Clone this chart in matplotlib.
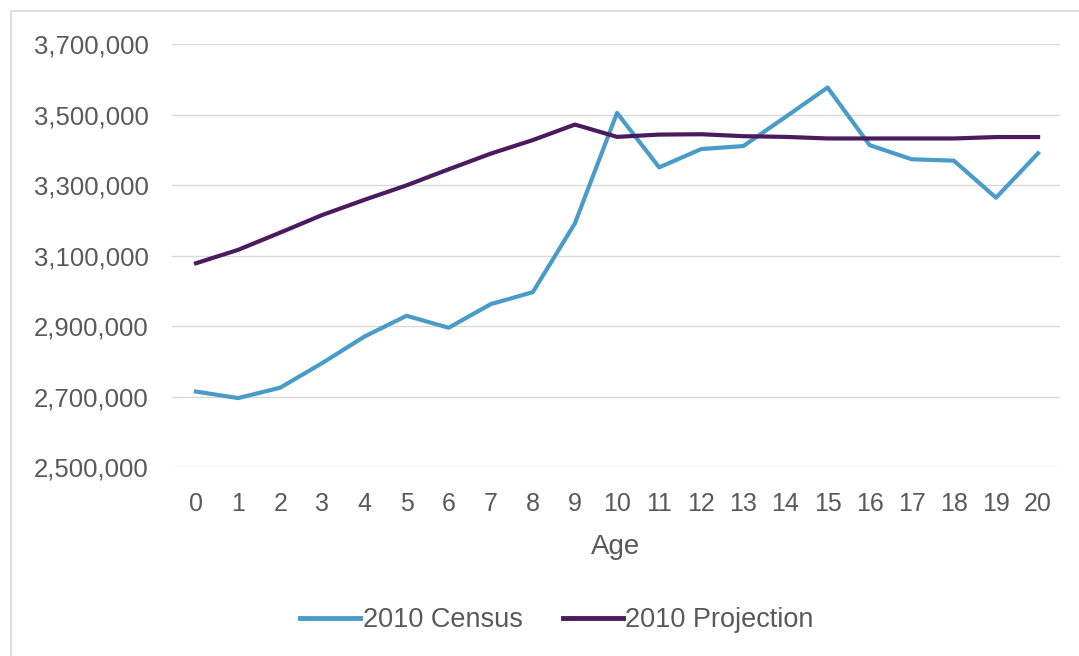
import matplotlib
matplotlib.use("Agg")
import matplotlib.pyplot as plt
from matplotlib.patches import Rectangle
from matplotlib.ticker import FuncFormatter

ages = list(range(0, 21))
census = [2714000, 2695500, 2725000, 2795000, 2870000, 2929000, 2895000, 2962000,
          2996000, 3191500, 3504500, 3350000, 3402000, 3410500, 3493000, 3576500,
          3413000, 3373000, 3369000, 3264000, 3390000]
projection = [3078000, 3116000, 3165000, 3215000, 3258000, 3299000, 3344500, 3389000,
              3427500, 3471500, 3436500, 3443000, 3444000, 3438500, 3436500, 3432000,
              3432000, 3432000, 3432000, 3436000, 3436000]
yticks = [2500000, 2700000, 2900000, 3100000, 3300000, 3500000, 3700000]

plt.rcParams['font.family'] = ['Liberation Sans', 'DejaVu Sans']

W, H = 1079, 656
fig = plt.figure(figsize=(W / 100, H / 100), dpi=100)
fig.patches.append(Rectangle((11 / W, -0.05), 1.2, 1 - 11 / H + 0.05,
                             transform=fig.transFigure, fill=False,
                             edgecolor='#D9D9D9', linewidth=1.2))

ax = fig.add_axes([172 / W, 1 - 467 / H, (1060 - 172) / W, (467 - 44) / H])
ax.plot(ages, census, color='#4A9CC8', lw=3.0, label='2010 Census', solid_joinstyle='round')
ax.plot(ages, projection, color='#4A1B5E', lw=3.0, label='2010 Projection', solid_joinstyle='round')

ax.set_xlim(-0.57, 20.52)
ax.set_ylim(2500000, 3700000)
ax.set_yticks(yticks)
ax.set_xticks(ages)
ax.yaxis.set_major_formatter(FuncFormatter(lambda v, p: f"{int(v):,}"))
ax.grid(axis='y', color='#D9D9D9', lw=1)
ax.set_axisbelow(True)
for s in ax.spines.values():
    s.set_visible(False)
ax.tick_params(axis='y', length=0, labelsize=18.5, labelcolor='#595959', pad=17)
ax.tick_params(axis='x', length=0, labelsize=18, labelcolor='#595959', pad=18)
ax.set_xlabel('Age', fontsize=20, color='#595959', labelpad=13)

leg = fig.legend(loc='center', bbox_to_anchor=(557 / W, 1 - 620 / H), ncol=2,
                 frameon=False, fontsize=19.5, handlelength=2.2, handletextpad=0.1,
                 columnspacing=1.5)
for t in leg.get_texts():
    t.set_color('#595959')
for h in leg.get_lines():
    h.set_linewidth(3.5)

fig.savefig('out.png', dpi=100, facecolor='white')
